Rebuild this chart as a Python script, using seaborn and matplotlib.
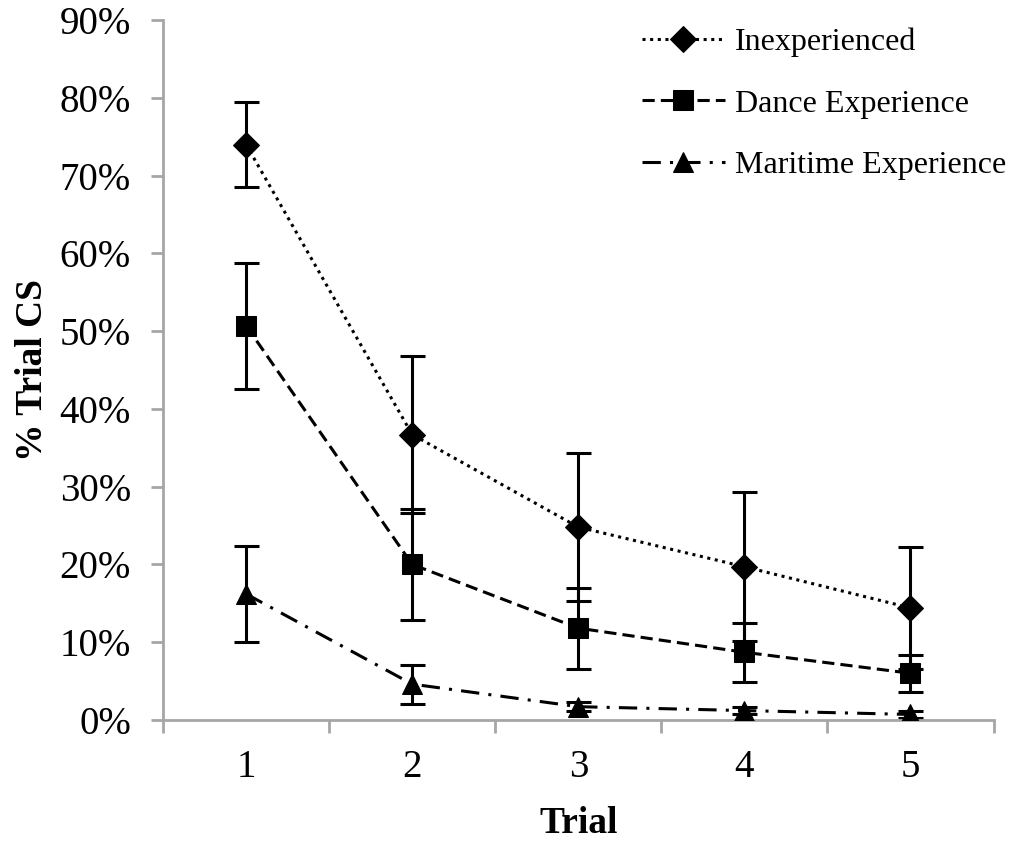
import numpy as np
import pandas as pd
import matplotlib
matplotlib.use("Agg")
import matplotlib.pyplot as plt
import seaborn as sns
from matplotlib.ticker import FixedLocator, PercentFormatter

trials = [1, 2, 3, 4, 5]
groups = ["Inexperienced", "Dance Experience", "Maritime Experience"]
inexperienced = [74.0, 36.7, 24.8, 19.7, 14.4]
inexperienced_err = [5.5, 10.1, 9.5, 9.6, 7.9]
dance = [50.7, 20.0, 11.8, 8.7, 6.0]
dance_err = [8.1, 7.1, 5.2, 3.8, 2.4]
maritime = [16.2, 4.6, 1.7, 1.2, 0.7]
maritime_err = [6.2, 2.5, 0.6, 0.5, 0.4]

df = pd.DataFrame({
    "Trial": trials * 3,
    "value": inexperienced + dance + maritime,
    "err": inexperienced_err + dance_err + maritime_err,
    "group": np.repeat(groups, len(trials)),
})

sns.set_style("white")
plt.rcParams["font.family"] = ["Liberation Serif", "DejaVu Serif"]
plt.rcParams["text.color"] = "black"
plt.rcParams["axes.labelcolor"] = "black"
plt.rcParams["xtick.color"] = "black"
plt.rcParams["ytick.color"] = "black"

fig = plt.figure(figsize=(10.19, 8.41), dpi=100)
ax = fig.add_axes([0.160, 0.144, 0.815, 0.832])

styles = {
    "Inexperienced": dict(marker="D", ls=(0, (1, 1.5)), ms=13),
    "Dance Experience": dict(marker="s", ls=(0, (4, 2)), ms=15),
    "Maritime Experience": dict(marker="^", ls=(0, (6, 3, 1, 3)), ms=15),
}

# error bars first so markers sit on top
for g in groups:
    sub = df[df["group"] == g]
    ax.errorbar(sub["Trial"], sub["value"], yerr=sub["err"], fmt="none",
                ecolor="black", elinewidth=2.2, capsize=9, capthick=2.2, zorder=2)

for g in groups:
    sub = df[df["group"] == g]
    st = styles[g]
    sns.lineplot(data=sub, x="Trial", y="value", ax=ax, color="black",
                 marker=st["marker"], markersize=st["ms"], linestyle=st["ls"],
                 linewidth=2.2, markeredgecolor="black", label=g, zorder=3)

ax.set_xlim(0.5, 5.5)
ax.set_ylim(0, 90)
ax.yaxis.set_major_locator(FixedLocator(np.arange(0, 91, 10)))
ax.yaxis.set_major_formatter(PercentFormatter(decimals=0))
ax.set_xticks(trials)
ax.xaxis.set_minor_locator(FixedLocator(np.arange(0.5, 5.6, 1)))
ax.tick_params(axis="x", which="major", bottom=True, length=0, labelsize=28, pad=21)
ax.tick_params(axis="x", which="minor", bottom=True, length=9, width=2,
               color="#a6a6a6", direction="out")
ax.tick_params(axis="y", which="major", left=True, length=9, width=2, color="#a6a6a6",
               labelcolor="black", direction="out", labelsize=28, pad=14)

for side in ["top", "right"]:
    ax.spines[side].set_visible(False)
for side in ["left", "bottom"]:
    ax.spines[side].set_color("#a6a6a6")
    ax.spines[side].set_linewidth(2)

ax.set_xlabel("Trial", fontsize=27, fontweight="bold", labelpad=14)
ax.set_ylabel("% Trial CS", fontsize=27, fontweight="bold", labelpad=7)

leg = ax.legend(loc="upper left", bbox_to_anchor=(0.630, 0.967),
                bbox_transform=fig.transFigure, frameon=False,
                fontsize=23, handlelength=2.6, handletextpad=0.3, labelspacing=1.0,
                borderpad=0, borderaxespad=0)

fig.savefig("out.png", dpi=100)
